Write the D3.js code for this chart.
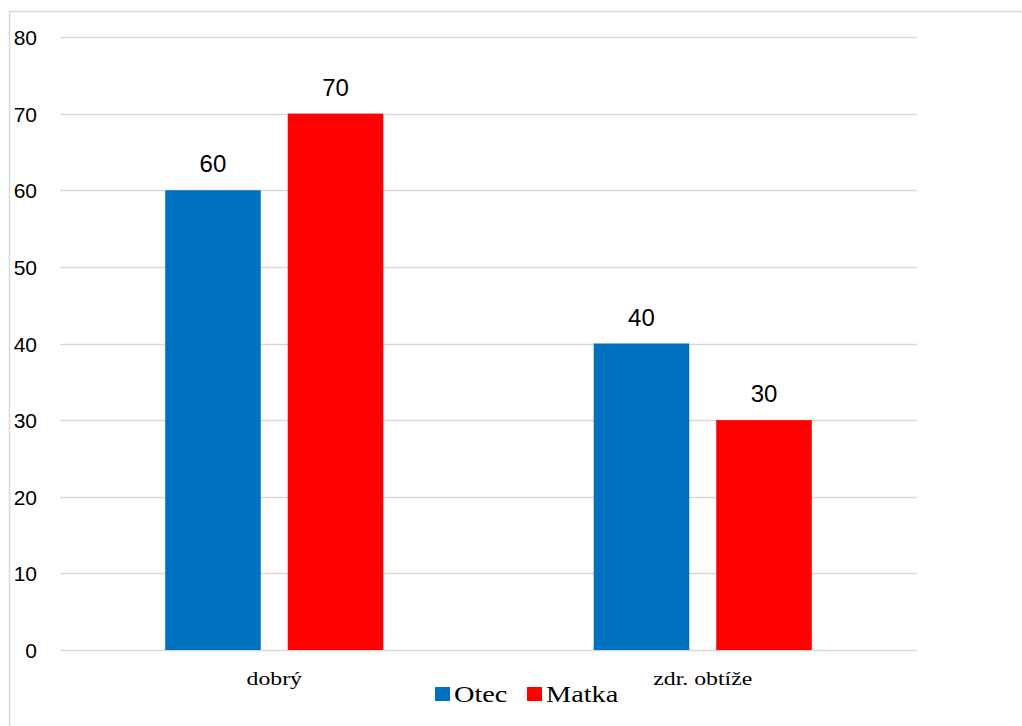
<!DOCTYPE html>
<html>
<head>
<meta charset="utf-8">
<script src="https://cdn.jsdelivr.net/npm/d3@7"></script>
<style>
  html, body { margin: 0; padding: 0; background: #fff; }
  svg { display: block; }
</style>
</head>
<body>
<svg id="chart" width="1022" height="726"></svg>
<script>
const categories = ["dobrý", "zdr. obtíže"];
const seriesNames = ["Otec", "Matka"];
const otecValues = [60, 40];
const matkaValues = [70, 30];
const yTicks = [0, 10, 20, 30, 40, 50, 60, 70, 80];
const colors = ["#0070C0", "#FF0000"];

const values = [otecValues, matkaValues];
const svg = d3.select("#chart");

// outer chart border (extends beyond right/bottom edge)
svg.append("rect")
  .attr("x", 9.5).attr("y", 11.5)
  .attr("width", 1030).attr("height", 730)
  .attr("fill", "none").attr("stroke", "#d9d9d9").attr("stroke-width", 1.5);

const plot = { left: 60, right: 917, top: 37, bottom: 650 };

const y = d3.scaleLinear().domain([0, 80]).range([plot.bottom, plot.top]);
const x0 = d3.scaleBand().domain(categories).range([plot.left, plot.right]).padding(0);
const groupW = x0.bandwidth() * 0.509;
const x1 = d3.scaleBand().domain(seriesNames).range([0, groupW]).paddingInner(0.22).paddingOuter(0);

// gridlines
svg.append("g").selectAll("line").data(yTicks).join("line")
  .attr("x1", plot.left).attr("x2", plot.right)
  .attr("y1", d => Math.round(y(d)) + 0.5).attr("y2", d => Math.round(y(d)) + 0.5)
  .attr("stroke", "#d9d9d9").attr("stroke-width", 1.3);

// y axis labels
const yAxis = d3.axisLeft(y).tickValues(yTicks).tickSize(0).tickPadding(0);
const yg = svg.append("g").attr("transform", "translate(37,0)").call(yAxis);
yg.select(".domain").remove();
yg.selectAll("text")
  .attr("font-family", "'Liberation Sans', Arial, sans-serif")
  .attr("font-size", 21).attr("fill", "#000").attr("dy", "0.36em");

// bars
const groups = svg.append("g").selectAll("g").data(categories).join("g")
  .attr("transform", d => `translate(${x0(d) + (x0.bandwidth() - groupW) / 2},0)`);

groups.selectAll("rect")
  .data((c, i) => seriesNames.map((s, j) => ({ s, j, v: values[j][i] })))
  .join("rect")
  .attr("x", d => x1(d.s))
  .attr("y", d => y(d.v))
  .attr("width", x1.bandwidth())
  .attr("height", d => y(0) - y(d.v))
  .attr("fill", d => colors[d.j]);

groups.selectAll("text")
  .data((c, i) => seriesNames.map((s, j) => ({ s, j, v: values[j][i] })))
  .join("text")
  .attr("x", d => x1(d.s) + x1.bandwidth() / 2)
  .attr("y", d => y(d.v) - 18)
  .attr("text-anchor", "middle")
  .attr("font-family", "'Liberation Sans', Arial, sans-serif")
  .attr("font-size", 24).attr("fill", "#000")
  .text(d => d.v);

// category labels
svg.append("g").selectAll("text").data(categories).join("text")
  .attr("transform", d => `translate(${x0(d) + x0.bandwidth() / 2},685) scale(1.2,1)`)
  .attr("text-anchor", "middle")
  .attr("font-family", "'Liberation Serif', 'Times New Roman', serif")
  .attr("font-size", 19.8).attr("fill", "#000")
  .text(d => d);

// legend
const legendX = [435, 527];
const lg = svg.append("g").selectAll("g").data(seriesNames).join("g")
  .attr("transform", (d, i) => `translate(${legendX[i]},0)`);
lg.append("rect").attr("x", 0).attr("y", 687).attr("width", 15).attr("height", 14)
  .attr("fill", (d, i) => colors[i]);
lg.append("text")
  .attr("transform", "translate(19,702) scale(1.2,1)")
  .attr("font-family", "'Liberation Serif', 'Times New Roman', serif")
  .attr("font-size", 23.6).attr("fill", "#000")
  .text(d => d);
</script>
</body>
</html>
